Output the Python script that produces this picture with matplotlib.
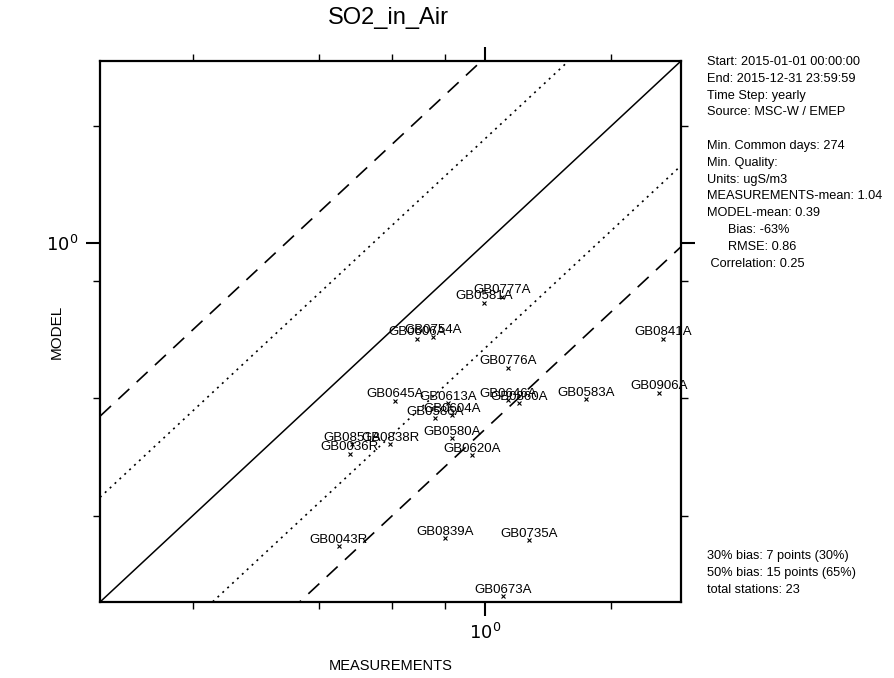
import numpy as np
import matplotlib
matplotlib.use("Agg")
import matplotlib.pyplot as plt
from matplotlib.ticker import FixedLocator, FixedFormatter, NullFormatter

plt.rcParams['font.family'] = ['Liberation Sans', 'DejaVu Sans']

# yearly means per station, ugS/m3
stations = ['GB0777A', 'GB0581A', 'GB0606A', 'GB0754A', 'GB0776A', 'GB0645A',
            'GB0613A', 'GB0586A', 'GB0604A', 'GB0580A', 'GB0620A', 'GB0851A',
            'GB0838R', 'GB0036R', 'GB0841A', 'GB0583A', 'GB0906A', 'GB0646A',
            'GB0860A', 'GB0043R', 'GB0839A', 'GB0735A', 'GB0673A']
measured = [1.098, 0.994, 0.688, 0.751, 1.135, 0.609,
            0.816, 0.759, 0.834, 0.834, 0.931, 0.481,
            0.593, 0.475, 2.666, 1.744, 2.608, 1.135,
            1.206, 0.447, 0.802, 1.274, 1.104]
modelled = [0.730, 0.705, 0.569, 0.576, 0.479, 0.394,
            0.389, 0.356, 0.362, 0.316, 0.286, 0.305,
            0.305, 0.288, 0.569, 0.398, 0.413, 0.396,
            0.389, 0.167, 0.175, 0.173, 0.124]

axis_range = [0.12, 2.94]
x_minor = [0.2, 0.4, 0.6, 0.8, 2]
y_minor = [0.2, 0.4, 0.8, 2]

info_top = ['Start: 2015-01-01 00:00:00', 'End: 2015-12-31 23:59:59',
            'Time Step: yearly', 'Source: MSC-W / EMEP', '',
            'Min. Common days: 274', 'Min. Quality:', 'Units: ugS/m3',
            'MEASUREMENTS-mean: 1.04', 'MODEL-mean: 0.39',
            '      Bias: -63%', '      RMSE: 0.86', ' Correlation: 0.25']
info_bottom = ['30% bias: 7 points (30%)', '50% bias: 15 points (65%)',
               'total stations: 23']

fig = plt.figure(figsize=(8.94, 6.78), dpi=100)
ax = fig.add_axes([0.1119, 0.1121, 0.6498, 0.7979])
ax.set_xscale('log')
ax.set_yscale('log')
ax.set_xlim(axis_range)
ax.set_ylim(axis_range)

# 1:1 line plus the 30% and 50% bias envelopes
xx = np.array(axis_range)
ax.plot(xx, xx, color='black', lw=1.1)
f30 = 1.3 / 0.7
f50 = 1.5 / 0.5
for f in (f30, 1 / f30):
    ax.plot(xx, xx * f, color='black', lw=1.2, linestyle=(0, (1.2, 2.8)))
for f in (f50, 1 / f50):
    ax.plot(xx, xx * f, color='black', lw=1.2, linestyle=(0, (9, 6)))

ax.plot(measured, modelled, linestyle='none', marker='x', color='black',
        markersize=3.5, markeredgewidth=0.8)
for name, mx, my in zip(stations, measured, modelled):
    ax.annotate(name, (mx, my), xytext=(0, 2.5), textcoords='offset points',
                ha='center', va='baseline', fontsize=9.5)

for axis, minor in ((ax.xaxis, x_minor), (ax.yaxis, y_minor)):
    axis.set_major_locator(FixedLocator([1.0]))
    axis.set_major_formatter(FixedFormatter(['$10^0$']))
    axis.set_minor_locator(FixedLocator(minor))
    axis.set_minor_formatter(NullFormatter())

ax.tick_params(which='both', direction='out', top=True, right=True,
               labeltop=False, labelright=False, colors='black')
ax.tick_params(which='major', length=10, width=1.5, labelsize=13)
ax.tick_params(axis='x', which='major', pad=5)
ax.tick_params(axis='y', which='major', pad=6)
ax.tick_params(which='minor', length=5, width=1.0)
for sp in ax.spines.values():
    sp.set_linewidth(1.6)

ax.set_xlabel('MEASUREMENTS', fontsize=10.5)
ax.set_ylabel('MODEL', fontsize=11)
ax.xaxis.set_label_coords(0.5, -0.105)
ax.yaxis.set_label_coords(-0.062, 0.5)
fig.text(388 / 894, 1 - 18 / 678, 'SO2_in_Air', fontsize=17,
         ha='center', va='center')

for i, line in enumerate(info_top):
    fig.text(707 / 894, 1 - (62 + i * 16.8) / 678, line, fontsize=9.2,
             va='center', ha='left')
for i, line in enumerate(info_bottom):
    fig.text(707 / 894, 1 - (556 + i * 17) / 678, line, fontsize=9.2,
             va='center', ha='left')

fig.savefig('out.png', dpi=100)
